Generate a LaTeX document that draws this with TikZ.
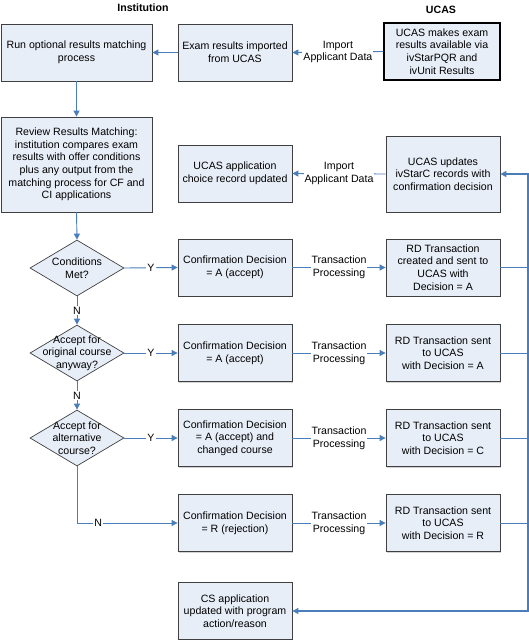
\documentclass[tikz,border=0pt]{standalone}
\usepackage{fontspec}
\setmainfont{Liberation Sans}
\usetikzlibrary{shapes.geometric,arrows.meta,shadows}
\definecolor{boxfill}{HTML}{E8EEF8}
\definecolor{boxline}{HTML}{404040}
\definecolor{conn}{HTML}{4A7EBB}
\begin{document}
\begin{tikzpicture}[x=1pt,y=-1pt,
  every node/.style={font=\fontsize{10.6}{12.7}\selectfont, align=center},
  box/.style={draw=boxline, fill=boxfill, line width=0.8pt, inner sep=0pt,
    minimum width=114pt, minimum height=57pt,
    drop shadow={shadow xshift=1pt, shadow yshift=-1pt, opacity=0.35, fill=gray}},
  wbox/.style={box, minimum width=151pt},
  ubox/.style={box, draw=black, line width=1.1pt},
  dec/.style={diamond, draw=boxline, fill=boxfill, line width=0.7pt, inner sep=0pt,
    minimum width=94pt, minimum height=56pt},
  head/.style={font=\fontsize{10.6}{12.7}\selectfont\bfseries},
  conn/.style={draw=conn, line width=0.9pt},
  arr/.style={conn, -{Triangle[length=6pt,width=6pt]}},
  elab/.style={fill=white, inner sep=1pt},
]
\useasboundingbox (0,0) rectangle (529,640);

\node[head] (inst) at (143,8) {Institution};
\node[head] (ucas) at (441,10) {UCAS};

\node[wbox] (b1) at (76.5,52.5) {Run optional results matching\\process};
\node[box] (exam) at (235,52.5) {Exam results imported\\from UCAS};
\node[ubox, minimum width=116pt] (u1) at (442,51.5) {UCAS makes exam\\results available via\\ivStarPQR and\\ivUnit Results};

\node[wbox, minimum height=95pt] (rev) at (76.5,164.5) {Review Results Matching:\\institution compares exam\\results with offer conditions\\plus any output from the\\matching process for CF and\\CI applications};
\node[box] (choice) at (235,173.5) {UCAS application\\choice record updated};
\node[box, minimum height=76pt] (u2) at (443,174) {UCAS updates\\ivStarC records with\\confirmation decision};

\node[dec, label={[align=center]center:Conditions\\Met?}] (d1) at (77,268) {};
\node[dec, label={[align=center]center:Accept for\\original course\\anyway?}] (d2) at (77,353) {};
\node[dec, label={[align=center]center:Accept for\\alternative\\course?}] (d3) at (77,438) {};

\node[box] (c1) at (235,267.5) {Confirmation Decision\\= A (accept)};
\node[box] (c2) at (235,353) {Confirmation Decision\\= A (accept)};
\node[box] (c3) at (235,438) {Confirmation Decision\\= A (accept) and\\changed course};
\node[box] (c4) at (235,523) {Confirmation Decision\\= R (rejection)};
\node[box] (cs) at (235,611) {CS application\\updated with program\\action/reason};

\node[box] (rd1) at (443,267.5) {RD Transaction\\created and sent to\\UCAS with\\Decision = A};
\node[box] (rd2) at (443,353) {RD Transaction sent\\to UCAS\\with Decision = A};
\node[box] (rd3) at (443,438) {RD Transaction sent\\to UCAS\\with Decision = C};
\node[box] (rd4) at (443,523) {RD Transaction sent\\to UCAS\\with Decision = R};

\coordinate (vt) at (528,174);
\coordinate (vb) at (528,611);

% top rows
\draw[arr] (u1.west) -- node[elab] {Import\\Applicant Data} (exam.east);
\draw[arr] (exam.west) -- (b1.east);
\draw[arr] (b1.south) -- (rev.north);
\draw[arr] (u2.west) -- node[elab] {Import\\Applicant Data} (choice.east);
\draw[arr] (rev.south) -- (d1.north);

% decisions
\draw[arr] (d1.east) -- node[elab] {Y} (c1.west);
\draw[arr] (d2.east) -- node[elab] {Y} (c2.west);
\draw[arr] (d3.east) -- node[elab] {Y} (c3.west);
\draw[arr] (d1.south) -- node[elab] {N} (d2.north);
\draw[arr] (d2.south) -- node[elab] {N} (d3.north);
\draw[arr] (d3.south) |- node[elab, pos=0.605] {N} (c4.west);

% transactions
\draw[arr] (c1.east) -- node[elab] {Transaction\\Processing} (rd1.west);
\draw[arr] (c2.east) -- node[elab] {Transaction\\Processing} (rd2.west);
\draw[arr] (c3.east) -- node[elab] {Transaction\\Processing} (rd3.west);
\draw[arr] (c4.east) -- node[elab] {Transaction\\Processing} (rd4.west);

% right return line
\draw[conn] (rd1.east) -- (rd1.east -| vt);
\draw[conn] (rd2.east) -- (rd2.east -| vt);
\draw[conn] (rd3.east) -- (rd3.east -| vt);
\draw[conn] (rd4.east) -- (rd4.east -| vt);
\draw[arr, line width=1.2pt] (vb) -- (vt) -- (u2.east);
\draw[arr, line width=1.2pt] (vt) -- (vb) -- (cs.east);
\end{tikzpicture}
\end{document}
